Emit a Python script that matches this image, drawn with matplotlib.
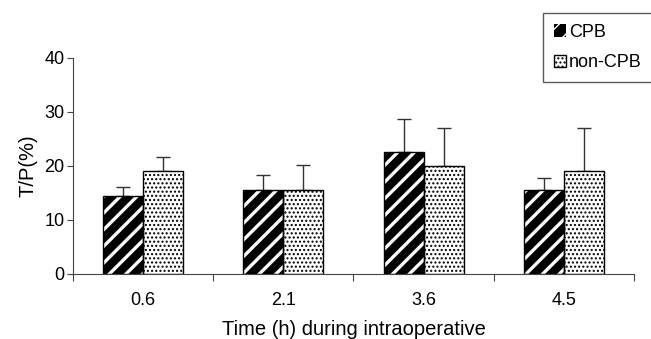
import numpy as np
import matplotlib.pyplot as plt
from matplotlib.ticker import FixedLocator

plt.rcParams['font.family'] = ['Liberation Sans', 'DejaVu Sans']

times = ['0.6', '2.1', '3.6', '4.5']
cpb = [14.5, 15.6, 22.6, 15.6]
cpb_err = [1.6, 2.8, 6.1, 2.1]
non_cpb = [19.0, 15.6, 19.9, 19.0]
non_cpb_err = [2.6, 4.5, 7.1, 8.0]

x = np.arange(len(times))
w = 0.286

fig = plt.figure(figsize=(6.51, 3.39), dpi=100)
ax = fig.add_axes([0.112, 0.192, 0.862, 0.637])

# CPB: black with white diagonal stripes
with plt.rc_context({'hatch.linewidth': 2.4, 'hatch.color': 'white'}):
    b1 = ax.bar(x - w/2, cpb, w, color='black', edgecolor='white', hatch='//', linewidth=0, zorder=2)
ax.bar(x - w/2, cpb, w, fill=False, edgecolor='black', linewidth=1.0, zorder=3)
ax.errorbar(x - w/2, cpb, yerr=[np.zeros(4), cpb_err], fmt='none', ecolor='#333333',
            elinewidth=1.0, capsize=5, capthick=1.0, zorder=1)

# non-CPB: white with dotted pattern
with plt.rc_context({'hatch.linewidth': 1.0, 'hatch.color': 'black'}):
    b2 = ax.bar(x + w/2, non_cpb, w, color='white', edgecolor='black', hatch='....', linewidth=1.0, zorder=2)
ax.errorbar(x + w/2, non_cpb, yerr=[np.zeros(4), non_cpb_err], fmt='none', ecolor='#333333',
            elinewidth=1.0, capsize=5, capthick=1.0, zorder=1)

ax.set_xlim(-0.5, 3.5)
ax.set_ylim(0, 40)
ax.set_yticks([0, 10, 20, 30, 40])
ax.tick_params(axis='y', labelsize=13, length=4, color='#444444', pad=2)

ax.xaxis.set_major_locator(FixedLocator([-0.5, 0.5, 1.5, 2.5, 3.5]))
ax.xaxis.set_major_formatter(plt.NullFormatter())
ax.set_xticks(x, times, minor=True)
ax.tick_params(axis='x', which='major', length=5, color='#444444')
ax.tick_params(axis='x', which='minor', length=0, labelsize=13, pad=13)

for s in ['top', 'right']:
    ax.spines[s].set_visible(False)
for s in ['left', 'bottom']:
    ax.spines[s].set_color('#444444')

ax.set_ylabel('T/P(%)', fontsize=14.5, labelpad=5)
ax.set_xlabel('Time (h) during intraoperative', fontsize=14.5, labelpad=8)

leg = fig.legend([b1, b2], ['CPB', 'non-CPB'], loc='upper left', bbox_to_anchor=(0.834, 0.962),
                 fontsize=13, frameon=True, fancybox=False, edgecolor='#333333',
                 handlelength=0.7, handleheight=0.7, handletextpad=0.15, borderpad=0.6,
                 labelspacing=0.75, borderaxespad=0)
leg.get_frame().set_linewidth(1.0)

fig.savefig('out.png', dpi=100)
